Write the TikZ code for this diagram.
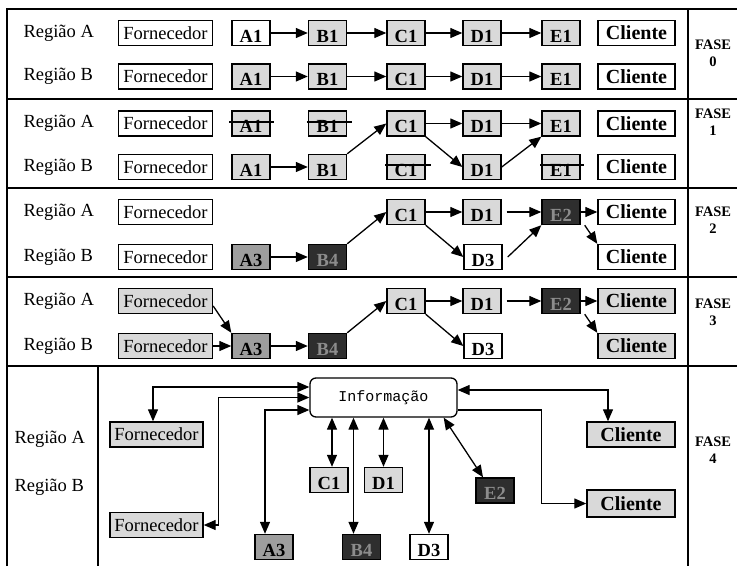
\documentclass[tikz,border=0pt]{standalone}
\usepackage{fontspec}
\setmainfont{Liberation Serif}
\setmonofont{Liberation Mono}
\usetikzlibrary{arrows.meta,calc}
\begin{document}
\begin{tikzpicture}[x=1pt,y=-1pt,
  box/.style={draw, line width=1.4pt, minimum height=25pt, inner sep=1pt, anchor=center},
  forn/.style={box, minimum width=94pt, font=\fontsize{18.5}{18.5}\selectfont},
  cli/.style={box, minimum width=77pt, font=\bfseries\fontsize{20}{20}\selectfont},
  lt/.style={box, minimum width=38pt, font=\bfseries\fontsize{18.5}{18.5}\selectfont, text height=18pt, text depth=0pt},
  light/.style={fill=black!15},
  med/.style={fill=black!38},
  dark/.style={fill=black!82, text=black!45},
  reg/.style={anchor=west, font=\fontsize{18.5}{18.5}\selectfont},
  fase/.style={align=center, inner sep=0pt, font=\bfseries\fontsize{14.5}{17}\selectfont},
  arr/.style={-{Triangle[length=12pt,width=10pt]}, line width=1.3pt},
  dbl/.style={{Triangle[length=12pt,width=10pt]}-{Triangle[length=12pt,width=10pt]}, line width=1.3pt},
  strike/.style={line width=1.2pt},
  frm/.style={line width=1.5pt},
]
\useasboundingbox (0,0) rectangle (737,566);
% frame
\draw[frm] (7,566) -- (7,9) -- (737,9);
\foreach \yy in {99,188,277,366} \draw[frm] (7,\yy) -- (737,\yy);
\draw[frm] (688,9) -- (688,566);
\draw[frm] (98,366) -- (98,566);

% ---------- Phase 0
\node[reg] (r0a) at (20,33) {Região A};
\node[reg] (r0b) at (20,76) {Região B};
\node[forn] (f0a) at (165.5,33) {Fornecedor};
\node[lt] (a0a) at (251,33) {A1};
\node[lt,light] (b0a) at (327.5,33) {B1};
\node[lt,light] (c0a) at (406,33) {C1};
\node[lt,light] (d0a) at (482,33) {D1};
\node[lt,light] (e0a) at (561,33) {E1};
\node[cli] (k0a) at (636.5,33) {Cliente};
\node[forn] (f0b) at (165.5,76.5) {Fornecedor};
\node[lt,light] (a0b) at (251,76.5) {A1};
\node[lt,light] (b0b) at (327.5,76.5) {B1};
\node[lt,light] (c0b) at (406,76.5) {C1};
\node[lt,light] (d0b) at (482,76.5) {D1};
\node[lt,light] (e0b) at (561,76.5) {E1};
\node[cli] (k0b) at (636.5,76.5) {Cliente};
\draw[arr] (a0a) -- (b0a); \draw[arr] (b0a) -- (c0a); \draw[arr] (c0a) -- (d0a); \draw[arr] (d0a) -- (e0a);
\draw[arr] (a0b) -- (b0b); \draw[arr] (b0b) -- (c0b); \draw[arr] (c0b) -- (d0b); \draw[arr] (d0b) -- (e0b);
\node[fase] (ph0) at (713,53) {FASE\\0};

% ---------- Phase 1
\node[reg] (r1a) at (20,123.5) {Região A};
\node[reg] (r1b) at (20,167) {Região B};
\node[forn] (f1a) at (165.5,123.5) {Fornecedor};
\node[lt,light] (a1a) at (251,123.5) {A1};
\node[lt,light] (b1a) at (327.5,123.5) {B1};
\node[lt,light] (c1a) at (406,123.5) {C1};
\node[lt,light] (d1a) at (482,123.5) {D1};
\node[lt,light] (e1a) at (561,123.5) {E1};
\node[cli] (k1a) at (636.5,123.5) {Cliente};
\node[forn] (f1b) at (165.5,167) {Fornecedor};
\node[lt,light] (a1b) at (251,167) {A1};
\node[lt,light] (b1b) at (327.5,167) {B1};
\node[lt,light] (c1b) at (406,167) {C1};
\node[lt,light] (d1b) at (482,167) {D1};
\node[lt,light] (e1b) at (561,167) {E1};
\node[cli] (k1b) at (636.5,167) {Cliente};
\draw[strike] ([xshift=-2pt,yshift=1.5pt]a1a.west) -- ([xshift=3pt,yshift=1.5pt]a1a.east);
\draw[strike] ([xshift=-1pt,yshift=1.5pt]b1a.west) -- ([xshift=5pt,yshift=1.5pt]b1a.east);
\draw[strike] ([xshift=-1pt,yshift=2pt]c1b.west) -- ([xshift=5pt,yshift=2pt]c1b.east);
\draw[strike] ([xshift=-1pt,yshift=2pt]e1b.west) -- ([xshift=3pt,yshift=2pt]e1b.east);
\draw[arr] (a1b) -- (b1b);
\draw[arr] (b1b.north east) -- (c1a.west);
\draw[arr] (c1a) -- (d1a);
\draw[arr] (c1a.south east) -- (d1b.west);
\draw[arr] (d1a) -- (e1a);
\draw[arr] (d1b.east) -- (e1a.south west);
\node[fase] (ph1) at (713,122) {FASE\\1};

% ---------- Phase 2
\node[reg] (r2a) at (20,212) {Região A};
\node[reg] (r2b) at (20,257) {Região B};
\node[forn] (f2a) at (165.5,212) {Fornecedor};
\node[lt,light] (c2a) at (406,212) {C1};
\node[lt,light] (d2a) at (482,212) {D1};
\node[lt,dark] (e2a) at (561,212) {E2};
\node[cli] (k2a) at (636.5,212) {Cliente};
\node[forn] (f2b) at (165.5,257) {Fornecedor};
\node[lt,med] (a2b) at (251,257) {A3};
\node[lt,dark] (b2b) at (327.5,257) {B4};
\node[lt] (d2b) at (483,257) {D3};
\node[cli] (k2b) at (636.5,257) {Cliente};
\draw[arr] (a2b) -- (b2b);
\draw[arr] (b2b.north east) -- (c2a.west);
\draw[arr] (c2a) -- (d2a);
\draw[arr] (c2a.south east) -- (d2b.west);
\draw[arr] ([xshift=5pt]d2a.east) -- (e2a);
\draw[arr] ([xshift=5pt]d2b.east) -- (e2a.south west);
\draw[arr] (e2a) -- (k2a);
\draw[arr] ([xshift=4pt]e2a.south east) -- (k2b.north west);
\node[fase] (ph2) at (713,220) {FASE\\2};

% ---------- Phase 3
\node[reg] (r3a) at (20,301) {Região A};
\node[reg] (r3b) at (20,346) {Região B};
\node[forn,light] (f3a) at (165.5,301) {Fornecedor};
\node[lt,light] (c3a) at (406,301) {C1};
\node[lt,light] (d3a) at (482,301) {D1};
\node[lt,dark] (e3a) at (561,301) {E2};
\node[cli,light] (k3a) at (636.5,301) {Cliente};
\node[forn,light] (f3b) at (165.5,346) {Fornecedor};
\node[lt,med] (a3b) at (251,346) {A3};
\node[lt,dark] (b3b) at (327.5,346) {B4};
\node[lt] (d3b) at (483,346) {D3};
\node[cli,light] (k3b) at (636.5,346) {Cliente};
\draw[arr] ([yshift=-5pt]f3a.east) -- (a3b.north west);
\draw[arr] (f3b) -- (a3b);
\draw[arr] (a3b) -- (b3b);
\draw[arr] (b3b.north east) -- (c3a.west);
\draw[arr] (c3a) -- (d3a);
\draw[arr] (c3a.south east) -- (d3b.west);
\draw[arr] ([xshift=5pt]d3a.east) -- (e3a);
\draw[arr] (e3a) -- (k3a);
\draw[arr] ([xshift=4pt]e3a.south east) -- (k3b.north west);
\node[fase] (ph3) at (713,312) {FASE\\3};

% ---------- Phase 4
\node[reg] (r4a) at (11,439) {Região A};
\node[reg] (r4b) at (11,487) {Região B};
\node[draw, rounded corners=6pt, line width=1.3pt, minimum width=147pt, minimum height=39pt, inner sep=1pt,
  font=\ttfamily\fontsize{15}{16}\selectfont] (info) at (383.5,397.5) {Informação};
\node[forn,light,minimum width=93pt] (f4a) at (156.5,434.5) {Fornecedor};
\node[forn,light,minimum width=93pt] (f4b) at (156.5,525) {Fornecedor};
\node[lt,light] (c4) at (329,480) {C1};
\node[lt,light] (d14) at (383.5,480) {D1};
\node[lt,dark] (e4) at (495,490.5) {E2};
\node[lt,med] (a4) at (274,547) {A3};
\node[lt,dark] (b4) at (361.5,547) {B4};
\node[lt] (d34) at (429,547) {D3};
\node[cli,light,minimum width=88pt] (k4a) at (631,434.5) {Cliente};
\node[cli,light,minimum width=88pt,minimum height=27pt] (k4b) at (631,503.5) {Cliente};
\coordinate (fatop) at ([xshift=-3.5pt]f4a.north);
\coordinate (fbbend) at ($(f4b.east)+(15,0)$);
\coordinate (atop) at ([xshift=-9pt]a4.north);
\coordinate (ctop) at ([xshift=3pt]c4.north);
\coordinate (btop) at ([xshift=-8pt]b4.north);
\coordinate (etop) at ([xshift=-12pt]e4.north);
\coordinate (katop) at ([xshift=-23pt]k4a.north);
\coordinate (kbbend) at ($(k4b.west)+(-45,0)$);
\draw[dbl] ([yshift=10.5pt]info.west) -| (fatop);
\draw[dbl] (info.west) -| (fbbend) -- (f4b.east);
\draw[dbl] ([yshift=-12.5pt]info.west) -| (atop);
\draw[dbl] (ctop) -- (ctop |- info.south);
\draw[dbl] (btop) -- (btop |- info.south);
\draw[dbl] (d14.north) -- (d14.north |- info.south);
\draw[dbl] (d34.north) -- (d34.north |- info.south);
\draw[dbl] (etop) -- ([xshift=-14pt]info.south east);
\draw[dbl] ([yshift=7.5pt]info.east) -| (katop);
\draw[arr] ([yshift=-12.5pt]info.east) -| (kbbend) -- (k4b.west);
\node[fase] (ph4) at (713,450) {FASE\\4};
\end{tikzpicture}
\end{document}
